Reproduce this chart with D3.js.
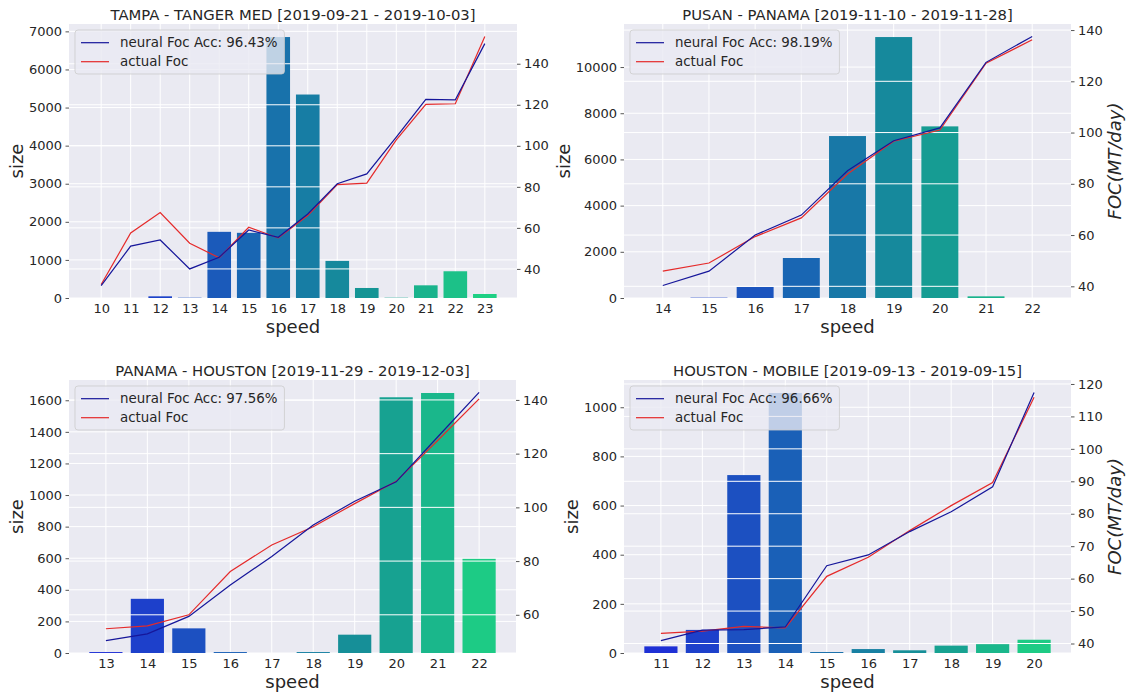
<!DOCTYPE html>
<html>
<head>
<meta charset="utf-8">
<script src="https://cdn.jsdelivr.net/npm/d3@7"></script>
<style>
  body { margin: 0; background: #ffffff; }
  svg { display: block; font-family: "DejaVu Sans", sans-serif; }
</style>
</head>
<body>
<svg id="chart" width="1128" height="695"></svg>
<script>
// ---- TAMPA - TANGER MED ----
const tampaSpeed   = [10, 11, 12, 13, 14, 15, 16, 17, 18, 19, 20, 21, 22, 23];
const tampaSize    = [0, 0, 44, 8, 1737, 1711, 6851, 5342, 974, 263, 8, 333, 702, 105];
const tampaNeural  = [31.9, 51.1, 54.1, 40.0, 45.7, 59.0, 55.4, 66.8, 81.5, 86.3, 104.2, 122.6, 122.4, 149.8];
const tampaActual  = [32.4, 57.5, 67.5, 52.5, 45.4, 60.3, 55.1, 66.0, 81.1, 81.8, 102.9, 120.2, 120.5, 153.3];
const tampaSizeTicks = [0, 1000, 2000, 3000, 4000, 5000, 6000, 7000];
const tampaFocTicks  = [40, 60, 80, 100, 120, 140];

// ---- PUSAN - PANAMA ----
const pusanSpeed   = [14, 15, 16, 17, 18, 19, 20, 21, 22];
const pusanSize    = [0, 15, 476, 1732, 7013, 11299, 7431, 72, 0];
const pusanNeural  = [40.3, 45.9, 60.0, 67.8, 85.1, 96.8, 101.8, 127.4, 137.5];
const pusanActual  = [45.9, 49.1, 59.4, 66.7, 83.8, 96.6, 101.0, 127.1, 136.2];
const pusanSizeTicks = [0, 2000, 4000, 6000, 8000, 10000];
const pusanFocTicks  = [40, 60, 80, 100, 120, 140];

// ---- PANAMA - HOUSTON ----
const panamaSpeed  = [13, 14, 15, 16, 17, 18, 19, 20, 21, 22];
const panamaSize   = [6, 343, 156, 6, 0, 6, 116, 1619, 1646, 596];
const panamaNeural = [50.4, 52.9, 59.4, 71.1, 81.7, 93.4, 102.3, 109.5, 126.2, 142.8];
const panamaActual = [54.8, 55.9, 60.0, 76.1, 86.0, 92.8, 101.4, 109.7, 124.9, 140.4];
const panamaSizeTicks = [0, 200, 400, 600, 800, 1000, 1200, 1400, 1600];
const panamaFocTicks  = [60, 80, 100, 120, 140];

// ---- HOUSTON - MOBILE ----
const houstonSpeed  = [11, 12, 13, 14, 15, 16, 17, 18, 19, 20];
const houstonSize   = [27, 94, 724, 1058, 4, 16, 11, 30, 36, 54];
const houstonNeural = [40.9, 44.1, 44.3, 45.1, 64.0, 67.3, 74.5, 80.6, 88.3, 117.4];
const houstonActual = [43.1, 43.8, 45.3, 44.8, 60.7, 66.6, 74.8, 82.5, 89.6, 115.9];
const houstonSizeTicks = [0, 200, 400, 600, 800, 1000];
const houstonFocTicks  = [40, 50, 60, 70, 80, 90, 100, 110, 120];

const titles = [
  "TAMPA - TANGER MED [2019-09-21 - 2019-10-03]",
  "PUSAN - PANAMA [2019-11-10 - 2019-11-28]",
  "PANAMA - HOUSTON [2019-11-29 - 2019-12-03]",
  "HOUSTON - MOBILE [2019-09-13 - 2019-09-15]"
];
const accuracies = ["96.43", "98.19", "97.56", "96.66"];

const panels = [
  { speed: tampaSpeed, size: tampaSize, neural: tampaNeural, actual: tampaActual, sizeTicks: tampaSizeTicks, focTicks: tampaFocTicks, focLabel: false },
  { speed: pusanSpeed, size: pusanSize, neural: pusanNeural, actual: pusanActual, sizeTicks: pusanSizeTicks, focTicks: pusanFocTicks, focLabel: true },
  { speed: panamaSpeed, size: panamaSize, neural: panamaNeural, actual: panamaActual, sizeTicks: panamaSizeTicks, focTicks: panamaFocTicks, focLabel: false },
  { speed: houstonSpeed, size: houstonSize, neural: houstonNeural, actual: houstonActual, sizeTicks: houstonSizeTicks, focTicks: houstonFocTicks, focLabel: true }
];

// plot-area frames of the 2x2 grid
const frames = [
  { x0: 69,  x1: 517,  y0: 24,  y1: 298 },
  { x0: 624, x1: 1071, y0: 24,  y1: 298 },
  { x0: 69,  x1: 516,  y0: 380, y1: 653 },
  { x0: 624, x1: 1071, y0: 380, y1: 653 }
];

const BG = "#EAEAF2";
const TEXT = "#262626";
const FONT = "DejaVu Sans, sans-serif";
const NEURAL_COLOR = "#16169a";
const ACTUAL_COLOR = "#e52a2a";

// "winter" colormap sampled without its end points, then desaturated
function winterColor(i, n) {
  const t = (i + 1) / (n + 1);
  const c = d3.hsl(d3.rgb(0, 255 * t, 255 * (1 - 0.5 * t)));
  c.s *= 0.75;
  return c.formatHex();
}

const svg = d3.select("#chart");
svg.append("rect").attr("width", 1128).attr("height", 695).attr("fill", "#ffffff");

panels.forEach((p, k) => {
  const f = frames[k];
  const g = svg.append("g");
  const n = p.speed.length;
  const idx = d3.range(n);

  const pad = 0.4 + 0.05 * (n - 1 + 0.8);
  const x = d3.scaleLinear().domain([-pad, n - 1 + pad]).range([f.x0, f.x1]);
  const barW = x(0.8) - x(0);

  const ySize = d3.scaleLinear().domain([0, d3.max(p.size) * 1.05]).range([f.y1, f.y0]);
  const all = p.neural.concat(p.actual);
  const lo = d3.min(all), hi = d3.max(all), m = (hi - lo) * 0.05;
  const yFoc = d3.scaleLinear().domain([lo - m, hi + m]).range([f.y1, f.y0]);

  // axes background
  g.append("rect")
    .attr("x", f.x0).attr("y", f.y0)
    .attr("width", f.x1 - f.x0).attr("height", f.y1 - f.y0)
    .attr("fill", BG);

  // grid under the bars
  g.append("g").selectAll("line").data(idx).join("line")
    .attr("x1", i => x(i)).attr("x2", i => x(i))
    .attr("y1", f.y0).attr("y2", f.y1)
    .attr("stroke", "#ffffff").attr("stroke-width", 1);
  g.append("g").selectAll("line").data(p.sizeTicks).join("line")
    .attr("x1", f.x0).attr("x2", f.x1)
    .attr("y1", d => ySize(d)).attr("y2", d => ySize(d))
    .attr("stroke", "#ffffff").attr("stroke-width", 1);

  // size bars
  g.append("g").selectAll("rect").data(idx).join("rect")
    .attr("x", i => x(i) - barW / 2)
    .attr("width", barW)
    .attr("y", i => ySize(p.size[i]))
    .attr("height", i => ySize(0) - ySize(p.size[i]))
    .attr("fill", i => winterColor(i, n));

  // grid of the FOC axis, drawn over the bars
  g.append("g").selectAll("line").data(p.focTicks).join("line")
    .attr("x1", f.x0).attr("x2", f.x1)
    .attr("y1", d => yFoc(d)).attr("y2", d => yFoc(d))
    .attr("stroke", "#ffffff").attr("stroke-width", 1);

  // FOC lines
  const line = vals => d3.line().x(i => x(i)).y(i => yFoc(vals[i]))(idx);
  g.append("path").attr("d", line(p.actual))
    .attr("fill", "none").attr("stroke", ACTUAL_COLOR).attr("stroke-width", 1.2);
  g.append("path").attr("d", line(p.neural))
    .attr("fill", "none").attr("stroke", NEURAL_COLOR).attr("stroke-width", 1.2);

  // left axis
  const ax = g.append("g").attr("transform", `translate(${f.x0},0)`)
    .call(d3.axisLeft(ySize).tickValues(p.sizeTicks).tickSize(3.5).tickPadding(3.5).tickFormat(d3.format("d")));
  // bottom axis
  const bx = g.append("g").attr("transform", `translate(0,${f.y1})`)
    .call(d3.axisBottom(x).tickValues(idx).tickSize(0).tickPadding(6).tickFormat(i => p.speed[i]));
  // right axis
  const rx = g.append("g").attr("transform", `translate(${f.x1},0)`)
    .call(d3.axisRight(yFoc).tickValues(p.focTicks).tickSize(3.5).tickPadding(3.5).tickFormat(d3.format("d")));

  [ax, bx, rx].forEach(a => {
    a.select(".domain").remove();
    a.selectAll(".tick line").attr("stroke", "#555555").attr("stroke-width", 1);
    a.selectAll("text").attr("font-size", 13).attr("font-family", FONT).attr("fill", TEXT);
  });

  // title
  g.append("text")
    .attr("x", (f.x0 + f.x1) / 2).attr("y", f.y0 - 4.5)
    .attr("text-anchor", "middle").attr("font-size", 14.8).attr("fill", TEXT)
    .text(titles[k]);

  // axis labels
  g.append("text")
    .attr("x", (f.x0 + f.x1) / 2).attr("y", f.y1 + 35)
    .attr("text-anchor", "middle").attr("font-size", 18).attr("fill", TEXT)
    .text("speed");

  const leftEdge = ax.node().getBBox().x + f.x0;
  g.append("text")
    .attr("transform", `translate(${leftEdge - 5.5},${(f.y0 + f.y1) / 2}) rotate(-90)`)
    .attr("text-anchor", "middle").attr("font-size", 18).attr("fill", TEXT)
    .text("size");

  if (p.focLabel) {
    const rb = rx.node().getBBox();
    const rightEdge = f.x1 + rb.x + rb.width;
    g.append("text")
      .attr("transform", `translate(${rightEdge + 17.7},${(f.y0 + f.y1) / 2}) rotate(-90)`)
      .attr("text-anchor", "middle").attr("font-size", 18).attr("font-style", "italic").attr("fill", TEXT)
      .text("FOC(MT/day)");
  }

  // legend
  const lg = g.append("g").attr("transform", `translate(${f.x0 + 6},${f.y0 + 6})`);
  const box = lg.append("rect").attr("rx", 3).attr("ry", 3)
    .attr("fill", BG).attr("fill-opacity", 0.8)
    .attr("stroke", "#cccccc").attr("stroke-opacity", 0.8).attr("stroke-width", 1);
  const entries = [
    { label: `neural Foc Acc: ${accuracies[k]}%`, color: NEURAL_COLOR },
    { label: "actual Foc", color: ACTUAL_COLOR }
  ];
  let maxW = 0;
  entries.forEach((e, j) => {
    const cy = 12.7 + j * 19;
    lg.append("line").attr("x1", 6).attr("x2", 34).attr("y1", cy).attr("y2", cy)
      .attr("stroke", e.color).attr("stroke-width", 1.2);
    const t = lg.append("text").attr("x", 45).attr("y", cy).attr("dy", "0.35em")
      .attr("font-size", 13.4).attr("fill", TEXT).text(e.label);
    maxW = Math.max(maxW, t.node().getComputedTextLength());
  });
  box.attr("width", 45 + maxW + 7).attr("height", 44);
});
</script>
</body>
</html>
